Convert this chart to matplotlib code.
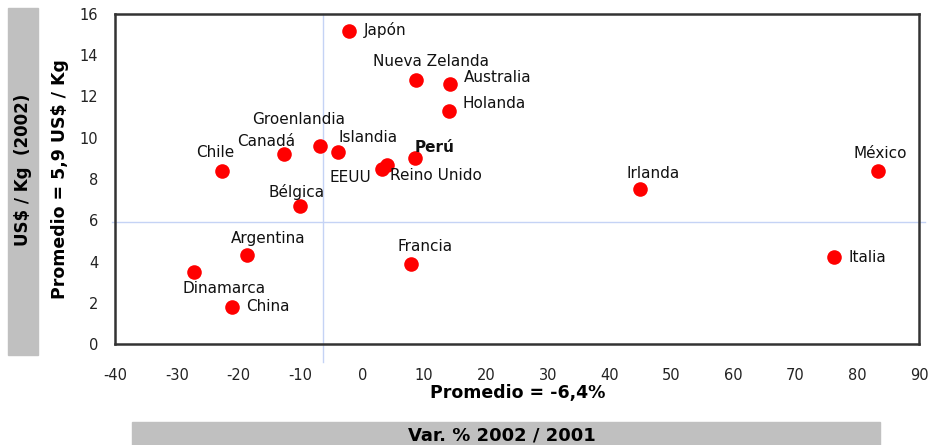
import matplotlib
matplotlib.use("Agg")
import matplotlib.pyplot as plt
from matplotlib.patches import Rectangle

plt.rcParams['axes.unicode_minus'] = False

# Variación % 2002/2001 vs precio US$/Kg 2002
paises = ['Japón', 'Nueva Zelanda', 'Australia', 'Holanda', 'Perú', 'Islandia',
          'Groenlandia', 'Canadá', 'Chile', 'EEUU', 'Reino Unido', 'Bélgica',
          'Argentina', 'Dinamarca', 'China', 'Francia', 'Irlanda', 'México', 'Italia']
variacion = [-2.1, 8.7, 14.2, 14.0, 8.5, -4.0,
             -6.8, -12.6, -22.7, 3.1, 4.0, -10.1,
             -18.7, -27.3, -21.1, 7.8, 44.9, 83.3, 76.3]
precio = [15.2, 12.8, 12.6, 11.3, 9.0, 9.3,
          9.6, 9.2, 8.4, 8.5, 8.7, 6.7,
          4.3, 3.5, 1.8, 3.9, 7.5, 8.4, 4.2]

promedio_var = -6.4
promedio_precio = 5.9

x_ticks = list(range(-40, 100, 10))
y_ticks = list(range(0, 18, 2))

# label placement: (dx, dy) in pixels, horizontal alignment
label_pos = {
    'Japón': (14, 0, 'left'),
    'Nueva Zelanda': (15, 18, 'center'),
    'Australia': (14, 7, 'left'),
    'Holanda': (14, 7, 'left'),
    'Perú': (0, 11, 'left'),
    'Islandia': (1, 15, 'left'),
    'Groenlandia': (-22, 26, 'center'),
    'Canadá': (-18, 13, 'center'),
    'Chile': (-7, 18, 'center'),
    'EEUU': (-31, -9, 'center'),
    'Reino Unido': (3, -11, 'left'),
    'Bélgica': (-3, 14, 'center'),
    'Argentina': (21, 17, 'center'),
    'Dinamarca': (31, -17, 'center'),
    'China': (14, 0, 'left'),
    'Francia': (14, 17, 'center'),
    'Irlanda': (13, 16, 'center'),
    'México': (3, 17, 'center'),
    'Italia': (14, 0, 'left'),
}

W, H = 932, 445
fig = plt.figure(figsize=(W / 100, H / 100), dpi=100)
ax = fig.add_axes([115 / W, 101 / H, 804 / W, 330 / H])

ax.set_xlim(-40, 90)
ax.set_ylim(0, 16)
ax.set_xticks(x_ticks)
ax.set_yticks(y_ticks)
ax.tick_params(length=0, labelsize=10.5, colors='#222222')
ax.tick_params(axis='x', pad=17)
ax.tick_params(axis='y', pad=12)
for s in ax.spines.values():
    s.set_color('#333333')
    s.set_linewidth(1.8)

# average lines
ax.axvline(promedio_var, ymin=-0.055, ymax=1.0, color='#c5d3f5', lw=1,
           clip_on=False, zorder=1)
ax.axhline(promedio_precio, xmin=-0.004, xmax=1.008, color='#c5d3f5', lw=1,
           clip_on=False, zorder=1)

ax.plot(variacion, precio, 'o', color='#ff0000', markersize=10.5,
        markeredgewidth=0, zorder=3)

for nombre, x, y in zip(paises, variacion, precio):
    dx, dy, ha = label_pos[nombre]
    ax.annotate(nombre, (x, y), xytext=(dx, dy), textcoords='offset pixels',
                ha=ha, va='center', fontsize=11, color='#111111',
                fontweight='bold' if nombre == 'Perú' else 'normal')

ax.set_ylabel('Promedio = 5,9 US$ / Kg', fontsize=12.5, fontweight='bold',
              labelpad=8)
fig.text(518 / W, 1 - 393 / H, 'Promedio = -6,4%', ha='center', va='center',
         fontsize=12.5, fontweight='bold')

# gray title boxes
fig.patches.append(Rectangle((8 / W, 1 - 355 / H), 30 / W, 347 / H,
                             transform=fig.transFigure, color='#c0c0c0', zorder=0))
fig.text(23 / W, 1 - 170 / H, 'US$ / Kg  (2002)', rotation=90, ha='center',
         va='center', fontsize=12, fontweight='bold')
fig.patches.append(Rectangle((132 / W, 0), 748 / W, 23.5 / H,
                             transform=fig.transFigure, color='#c0c0c0', zorder=0))
fig.text(502 / W, 1 - 435 / H, 'Var. % 2002 / 2001', ha='center', va='center',
         fontsize=13, fontweight='bold')

fig.savefig('out.png', dpi=100)
